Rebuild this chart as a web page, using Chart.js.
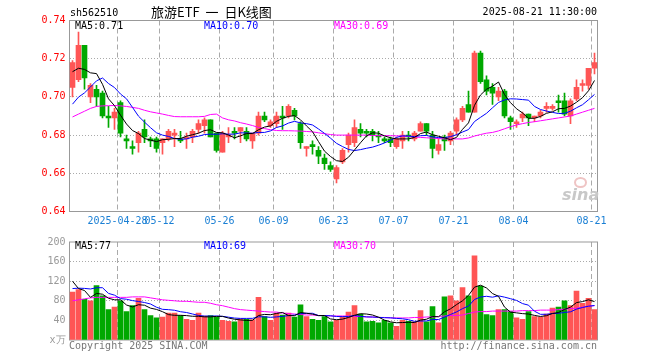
<!DOCTYPE html>
<html>
<head>
<meta charset="utf-8">
<script src="https://cdn.jsdelivr.net/npm/chart.js@4.4.1/dist/chart.umd.min.js"></script>
<style>
    body { margin: 0; background: #fff; }
    #wrap { position: relative; width: 660px; height: 360px; overflow: hidden; font-family: "DejaVu Sans Mono", monospace; font-size: 10px; }
    .box { position: absolute; left: 0; width: 660px; }
    .txt { position: absolute; white-space: pre; line-height: 12px; }
</style>
</head>
<body>
<div id="wrap">
    <div class="box" style="top:0;height:232px"><canvas id="kChart"></canvas></div>
    <div class="box" style="top:232px;height:118px"><canvas id="volChart"></canvas></div>

    <div class="txt" style="left:70px;top:7px;color:#000">sh562510</div>
    <div class="txt" style="left:151px;top:4px;line-height:16px;font-family:'Noto Sans CJK SC',sans-serif;font-size:13px;word-spacing:3px;color:#000">旅游ETF 一 日K线图</div>
    <div class="txt" style="right:63px;top:6px;color:#000">2025-08-21 11:30:00</div>

    <div class="txt" style="left:75px;top:20px;color:#000">MA5:0.71</div>
    <div class="txt" style="left:204px;top:20px;color:#0000ff">MA10:0.70</div>
    <div class="txt" style="left:334px;top:20px;color:#ff00ff">MA30:0.69</div>

    <div class="txt" style="left:75px;top:240px;color:#000">MA5:77</div>
    <div class="txt" style="left:204px;top:240px;color:#0000ff">MA10:69</div>
    <div class="txt" style="left:334px;top:240px;color:#ff00ff">MA30:70</div>

    <div style="position:absolute;left:574px;top:177px;width:9px;height:7px;border:2px solid #efc4c4;border-radius:50%"></div>
    <div class="txt" style="left:562px;top:186px;line-height:18px;font-family:'DejaVu Sans',sans-serif;font-size:16px;font-weight:bold;font-style:italic;color:#c8c8c8">sina</div>

    <div class="txt" style="left:69px;top:340px;color:#777">Copyright 2025 SINA.COM</div>
    <div class="txt" style="right:63px;top:340px;color:#777">http://finance.sina.com.cn</div>
</div>

<script>
// trading days shown (2025)
var dates = [
    '04-16', '04-17', '04-18', '04-21', '04-22', '04-23', '04-24', '04-25', '04-28', '04-29',
    '04-30', '05-06', '05-07', '05-08', '05-09', '05-12', '05-13', '05-14', '05-15', '05-16',
    '05-19', '05-20', '05-21', '05-22', '05-23', '05-26', '05-27', '05-28', '05-29', '05-30',
    '06-03', '06-04', '06-05', '06-06', '06-09', '06-10', '06-11', '06-12', '06-13', '06-16',
    '06-17', '06-18', '06-19', '06-20', '06-23', '06-24', '06-25', '06-26', '06-27', '06-30',
    '07-01', '07-02', '07-03', '07-04', '07-07', '07-08', '07-09', '07-10', '07-11', '07-14',
    '07-15', '07-16', '07-17', '07-18', '07-21', '07-22', '07-23', '07-24', '07-25', '07-28',
    '07-29', '07-30', '07-31', '08-01', '08-04', '08-05', '08-06', '08-07', '08-08', '08-11',
    '08-12', '08-13', '08-14', '08-15', '08-18', '08-19', '08-20', '08-21'
];
var tickLabels = ['2025-04-28', '05-12', '05-26', '06-09', '06-23', '07-07', '07-21', '08-04', '08-21'];

var opens = [
    0.705, 0.709, 0.727, 0.700, 0.704, 0.702, 0.690, 0.689, 0.697, 0.678,
    0.674, 0.676, 0.683, 0.678, 0.678, 0.676, 0.678, 0.680, 0.678, 0.678,
    0.679, 0.683, 0.685, 0.688, 0.681, 0.671, 0.679, 0.682, 0.682, 0.682,
    0.677, 0.681, 0.690, 0.685, 0.686, 0.690, 0.690, 0.693, 0.686, 0.673,
    0.675, 0.672, 0.668, 0.664, 0.657, 0.666, 0.675, 0.676, 0.683, 0.682,
    0.682, 0.680, 0.678, 0.678, 0.674, 0.677, 0.680, 0.678, 0.682, 0.686,
    0.680, 0.672, 0.679, 0.677, 0.682, 0.688, 0.696, 0.692, 0.723, 0.709,
    0.705, 0.700, 0.703, 0.689, 0.686, 0.689, 0.691, 0.689, 0.690, 0.694,
    0.694, 0.698, 0.698, 0.690, 0.699, 0.706, 0.706, 0.715
];
var highs = [
    0.719, 0.734, 0.727, 0.707, 0.706, 0.703, 0.695, 0.694, 0.698, 0.680,
    0.677, 0.682, 0.688, 0.679, 0.679, 0.678, 0.683, 0.683, 0.682, 0.681,
    0.683, 0.688, 0.689, 0.688, 0.681, 0.682, 0.684, 0.684, 0.684, 0.684,
    0.681, 0.692, 0.692, 0.688, 0.692, 0.695, 0.696, 0.694, 0.687, 0.674,
    0.677, 0.674, 0.670, 0.666, 0.664, 0.673, 0.681, 0.688, 0.686, 0.683,
    0.683, 0.682, 0.679, 0.679, 0.679, 0.682, 0.682, 0.682, 0.687, 0.686,
    0.682, 0.678, 0.680, 0.682, 0.689, 0.695, 0.703, 0.724, 0.724, 0.711,
    0.707, 0.705, 0.704, 0.690, 0.688, 0.692, 0.691, 0.690, 0.693, 0.697,
    0.696, 0.701, 0.702, 0.699, 0.709, 0.709, 0.715, 0.723
];
var lows = [
    0.700, 0.708, 0.704, 0.697, 0.695, 0.689, 0.684, 0.683, 0.679, 0.673,
    0.670, 0.671, 0.676, 0.674, 0.671, 0.670, 0.677, 0.674, 0.676, 0.673,
    0.676, 0.681, 0.681, 0.679, 0.671, 0.671, 0.676, 0.678, 0.676, 0.677,
    0.673, 0.680, 0.687, 0.684, 0.684, 0.683, 0.689, 0.688, 0.673, 0.669,
    0.670, 0.665, 0.662, 0.661, 0.655, 0.665, 0.671, 0.674, 0.679, 0.679,
    0.677, 0.676, 0.676, 0.674, 0.673, 0.673, 0.677, 0.677, 0.682, 0.680,
    0.668, 0.670, 0.672, 0.675, 0.680, 0.687, 0.692, 0.692, 0.707, 0.701,
    0.696, 0.698, 0.689, 0.683, 0.684, 0.687, 0.685, 0.687, 0.689, 0.692,
    0.693, 0.692, 0.690, 0.686, 0.698, 0.703, 0.704, 0.712
];
var closes = [
    0.718, 0.727, 0.710, 0.706, 0.700, 0.690, 0.689, 0.692, 0.681, 0.677,
    0.673, 0.681, 0.679, 0.677, 0.673, 0.678, 0.682, 0.681, 0.677, 0.679,
    0.682, 0.686, 0.688, 0.679, 0.672, 0.681, 0.680, 0.681, 0.684, 0.678,
    0.681, 0.690, 0.688, 0.687, 0.690, 0.689, 0.695, 0.690, 0.676, 0.674,
    0.674, 0.669, 0.665, 0.662, 0.663, 0.672, 0.680, 0.684, 0.681, 0.681,
    0.680, 0.679, 0.677, 0.676, 0.678, 0.680, 0.679, 0.681, 0.686, 0.682,
    0.673, 0.675, 0.677, 0.681, 0.688, 0.694, 0.692, 0.723, 0.708, 0.703,
    0.702, 0.703, 0.690, 0.687, 0.687, 0.691, 0.689, 0.690, 0.692, 0.695,
    0.695, 0.697, 0.691, 0.698, 0.705, 0.707, 0.715, 0.718
];
// volume, 10k shares
var volumes = [
    98, 103, 83, 80, 111, 90, 62, 67, 80, 58,
    70, 85, 62, 50, 45, 47, 55, 55, 50, 42,
    40, 55, 49, 50, 47, 40, 38, 37, 43, 42,
    41, 87, 48, 40, 55, 51, 55, 47, 72, 48,
    42, 40, 48, 37, 40, 48, 57, 70, 53, 37,
    38, 35, 40, 35, 28, 40, 38, 37, 60, 37,
    68, 35, 88, 90, 80, 107, 90, 172, 110, 52,
    50, 62, 62, 58, 45, 42, 58, 48, 47, 53,
    65, 67, 80, 70, 100, 75, 85, 62
];

// the nine sessions before the window, so the short averages start at the left edge
var priorCloses = [0.690, 0.688, 0.675, 0.668, 0.675, 0.718, 0.713, 0.715, 0.702];
var priorVolumes = [95, 88, 92, 85, 90, 178, 103, 150, 71];

// 30-day averages as drawn
var ma30Price = [
    0.6895, 0.691, 0.6925, 0.694, 0.695, 0.6953, 0.6954, 0.6955, 0.6953, 0.695,
    0.6945, 0.694, 0.693, 0.6922, 0.6916, 0.691, 0.6903, 0.6897, 0.6896, 0.6896,
    0.6896, 0.6896, 0.6898, 0.6908, 0.691, 0.689, 0.688, 0.6874, 0.6865, 0.6858,
    0.685, 0.684, 0.6834, 0.6828, 0.6824, 0.6823, 0.6823, 0.6822, 0.6821, 0.6819,
    0.6817, 0.6812, 0.6807, 0.6803, 0.680, 0.680, 0.680, 0.680, 0.680, 0.680,
    0.6798, 0.6797, 0.6797, 0.6797, 0.6796, 0.6795, 0.6793, 0.679, 0.6788, 0.6786,
    0.6784, 0.6782, 0.678, 0.678, 0.678, 0.678, 0.6785, 0.6795, 0.6803, 0.681,
    0.6814, 0.6822, 0.6833, 0.6844, 0.6853, 0.686, 0.6866, 0.687, 0.6875, 0.688,
    0.6885, 0.689, 0.6895, 0.690, 0.691, 0.692, 0.693, 0.694
];
var ma30Vol = [
    80, 82, 84, 86, 87, 87, 87, 87, 87, 87,
    88, 88, 88, 86, 84, 82, 81, 80, 79, 79,
    78, 77, 77, 75, 72, 70, 67, 64, 62, 61,
    60, 59, 58, 57, 57, 55, 54, 53, 52, 51,
    51, 50, 50, 49, 49, 49, 49, 48, 48, 47,
    47, 46, 46, 45, 45, 45, 45, 46, 46, 47,
    47, 48, 49, 50, 50, 51, 54, 57, 58, 58,
    59, 59, 59, 59, 59, 60, 60, 60, 61, 61,
    61, 62, 63, 64, 65, 67, 69, 70
];

var RED = '#ff5555';
var GREEN = '#00a800';
var MONO = { family: 'DejaVu Sans Mono', size: 10 };

function movingAvg(vals, prior, n) {
    var all = prior.concat(vals);
    return vals.map(function (v, i) {
        var end = prior.length + i + 1;
        var start = end - n;
        if (start < 0) return null;
        var s = 0;
        for (var k = start; k < end; k++) s += all[k];
        return s / n;
    });
}

function xLabel(i) {
    if (i === undefined || dates[i] === undefined) return '';
    for (var k = 0; k < tickLabels.length; k++) {
        if (tickLabels[k].slice(-5) === dates[i]) return tickLabels[k];
    }
    return '';
}

var upDown = closes.map(function (c, i) { return c >= opens[i] ? RED : GREEN; });

// box round the plot area
var framePlugin = {
    id: 'frame',
    beforeDatasetsDraw: function (chart) {
        var a = chart.chartArea, ctx = chart.ctx;
        ctx.save();
        ctx.strokeStyle = '#999';
        ctx.lineWidth = 1;
        ctx.strokeRect(a.left, a.top, a.right - a.left, a.bottom - a.top);
        ctx.restore();
    }
};

function xAxis(showLabels, height) {
    return {
        offset: true,
        grid: {
            offset: true,
            drawTicks: false,
            lineWidth: 1,
            color: function (c) { return xLabel(c.index) ? '#aaa' : 'transparent'; }
        },
        border: { display: false, dash: [5, 3] },
        ticks: {
            display: showLabels,
            autoSkip: false,
            maxRotation: 0,
            minRotation: 0,
            padding: 4,
            labelOffset: -3,
            color: '#1a7fd4',
            font: MONO,
            callback: function (v, i) { return xLabel(i); }
        },
        afterFit: function (s) { s.height = height; }
    };
}

function line(data, color) {
    return {
        type: 'line',
        data: data,
        borderColor: color,
        borderWidth: 1,
        pointRadius: 0,
        tension: 0,
        fill: false,
        order: 1
    };
}

var common = {
    responsive: true,
    maintainAspectRatio: false,
    animation: false,
    events: [],
    plugins: { legend: { display: false }, tooltip: { enabled: false } }
};

new Chart(document.getElementById('kChart').getContext('2d'), {
    type: 'bar',
    data: {
        labels: dates,
        datasets: [
            {
                data: lows.map(function (l, i) { return [l, highs[i]]; }),
                backgroundColor: upDown,
                barThickness: 1,
                grouped: false,
                order: 3
            },
            {
                data: opens.map(function (o, i) { return [o, closes[i]]; }),
                backgroundColor: upDown,
                barThickness: 5,
                minBarLength: 1,
                grouped: false,
                order: 2
            },
            line(movingAvg(closes, priorCloses, 5), '#000000'),
            line(movingAvg(closes, priorCloses, 10), '#0000ff'),
            line(ma30Price, '#ff00ff')
        ]
    },
    options: Object.assign({}, common, {
        layout: { padding: { top: 20.5, right: 62.5, left: 0, bottom: 0 } },
        scales: {
            x: xAxis(true, 20.5),
            y: {
                min: 0.64,
                max: 0.74,
                grid: {
                    drawTicks: false,
                    color: function (c) {
                        return c.tick && c.tick.value > 0.641 && c.tick.value < 0.739 ? '#aaa' : 'transparent';
                    }
                },
                border: { display: false, dash: [1, 2] },
                ticks: {
                    stepSize: 0.02,
                    padding: 4,
                    color: '#ff0000',
                    font: MONO,
                    callback: function (v) { return v.toFixed(2); }
                },
                afterFit: function (s) { s.width = 69.5; }
            }
        }
    }),
    plugins: [framePlugin]
});

new Chart(document.getElementById('volChart').getContext('2d'), {
    type: 'bar',
    data: {
        labels: dates,
        datasets: [
            {
                data: volumes,
                backgroundColor: upDown,
                barThickness: 5,
                grouped: false,
                order: 2
            },
            line(movingAvg(volumes, priorVolumes, 5), '#000000'),
            line(movingAvg(volumes, priorVolumes, 10), '#0000ff'),
            line(ma30Vol, '#ff00ff')
        ]
    },
    options: Object.assign({}, common, {
        layout: { padding: { top: 8.5, right: 62.5, left: 0, bottom: 0 } },
        scales: {
            x: xAxis(false, 9.5),
            y: {
                min: 0,
                max: 200,
                grid: {
                    drawTicks: false,
                    color: function (c) {
                        return c.tick && c.tick.value > 0 && c.tick.value < 200 ? '#aaa' : 'transparent';
                    }
                },
                border: { display: false, dash: [1, 2] },
                ticks: {
                    stepSize: 40,
                    padding: 4,
                    color: '#999',
                    font: MONO,
                    callback: function (v) { return v === 0 ? 'x万' : v; }
                },
                afterFit: function (s) { s.width = 69.5; }
            }
        }
    }),
    plugins: [framePlugin]
});
</script>
</body>
</html>
